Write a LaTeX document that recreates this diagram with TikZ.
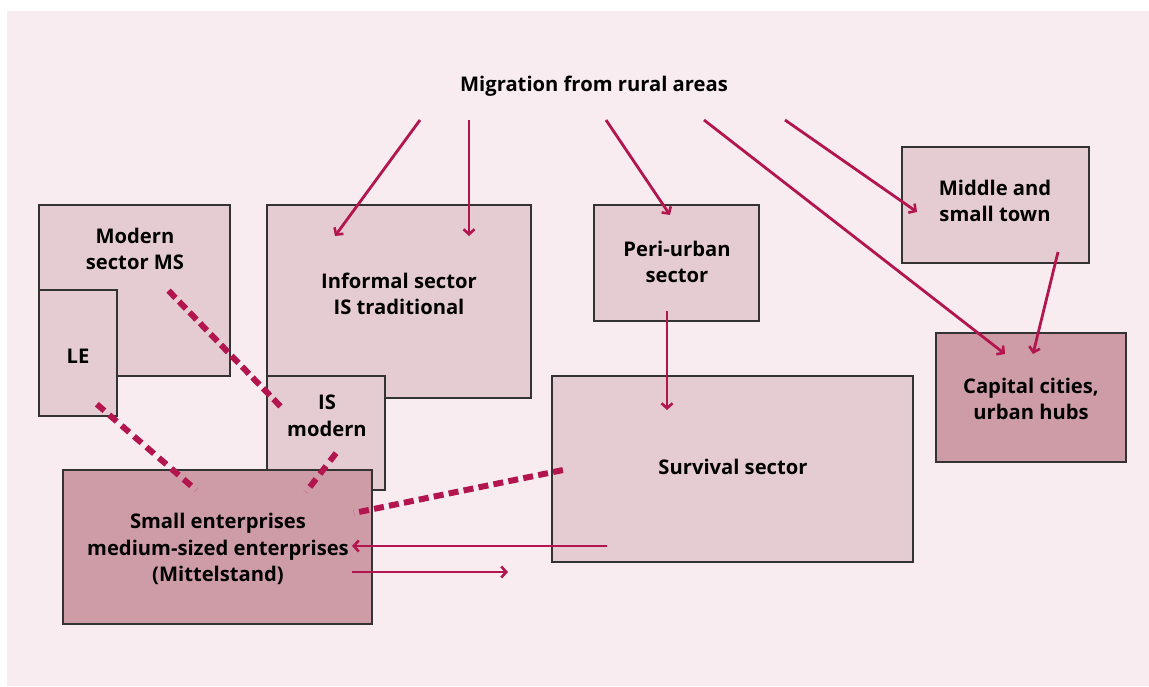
\documentclass[tikz,border=0pt]{standalone}
\usepackage{fontspec}
\setmainfont{Open Sans}
\usetikzlibrary{arrows.meta,decorations}
\definecolor{bgpink}{HTML}{F8ECF0}
\definecolor{lightbox}{HTML}{E5CCD2}
\definecolor{darkbox}{HTML}{CE9CA6}
\definecolor{arrowred}{HTML}{B3154F}
\definecolor{boxline}{HTML}{333333}
\begin{document}
\begin{tikzpicture}[x=1pt,y=-1pt,
  lbox/.style={draw=boxline,line width=1.5pt,fill=lightbox},
  dbox/.style={draw=boxline,line width=1.5pt,fill=darkbox},
  txt/.style={font=\fontsize{20.2}{26.5}\selectfont\bfseries,align=center,inner sep=0pt},
  flow/.style={draw=arrowred,line width=2.8pt,-{Straight Barb[length=5pt,width=11pt,line width=2.6pt]}},
  link/.style={draw=arrowred,line width=6pt,dash pattern=on 10pt off 5pt,dash expand off}]
\useasboundingbox (0,0) rectangle (1149,686);
\fill[bgpink] (7,11) rectangle (1149,686);
% boxes
\draw[lbox] (39,205) rectangle (230,376);
\draw[lbox] (39,290) rectangle (117,416);
\draw[lbox] (267,205) rectangle (531,398);
\draw[lbox] (267,376) rectangle (385,490);
\draw[dbox] (63,470) rectangle (372,624);
\draw[lbox] (594,205) rectangle (759,321);
\draw[lbox] (552,376) rectangle (913,562);
\draw[lbox] (902,147) rectangle (1089,263);
\draw[dbox] (936,333) rectangle (1126,462);
% labels
\node[txt] (mig) at (594,86) {Migration from rural areas};
\node[txt] (ms) at (135,249) {Modern\\sector MS};
\node[txt] (le) at (78,356) {LE};
\node[txt] (ist) at (399,294) {Informal sector\\IS traditional};
\node[txt] (ism) at (327,416) {IS\\modern};
\node[txt] (sme) at (218,549) {Small enterprises\\medium-sized enterprises\\(Mittelstand)};
\node[txt] (peri) at (677,262) {Peri-urban\\sector};
\node[txt] (surv) at (733,467) {Survival sector};
\node[txt] (town) at (995,201) {Middle and\\small town};
\node[txt] (cap) at (1031,399) {Capital cities,\\urban hubs};
% connector end points
\coordinate (m1) at (420,120); \coordinate (i1) at (335,236);
\coordinate (m2) at (469,120); \coordinate (i2) at (469,236);
\coordinate (m3) at (606,120); \coordinate (p1) at (670,215);
\coordinate (m4) at (704,120); \coordinate (c1) at (1005,354);
\coordinate (m5) at (785,120); \coordinate (t1) at (917,212);
\coordinate (t2) at (1058,252); \coordinate (c2) at (1033,354);
\coordinate (p2) at (667,311); \coordinate (s1) at (667,410);
\coordinate (s2) at (607,546); \coordinate (e1) at (352,546);
\coordinate (e2) at (352,572); \coordinate (o1) at (508,572);
\coordinate (ms1) at (165,287); \coordinate (ism1) at (284,410);
\coordinate (le1) at (92,400); \coordinate (e3) at (196,490);
\coordinate (ism2) at (340,448); \coordinate (e4) at (306,492);
\coordinate (s3) at (568,469); \coordinate (e5) at (354,513);
% arrows
\draw[flow] (m1) -- (i1);
\draw[flow] (m2) -- (i2);
\draw[flow] (m3) -- (p1);
\draw[flow] (m4) -- (c1);
\draw[flow] (m5) -- (t1);
\draw[flow] (t2) -- (c2);
\draw[flow] (p2) -- (s1);
\draw[flow] (s2) -- (e1);
\draw[flow] (e2) -- (o1);
% dashed links
\draw[link] (ms1) -- (ism1);
\draw[link] (le1) -- (e3);
\draw[link] (ism2) -- (e4);
\draw[link] (s3) -- (e5);
\end{tikzpicture}
\end{document}
